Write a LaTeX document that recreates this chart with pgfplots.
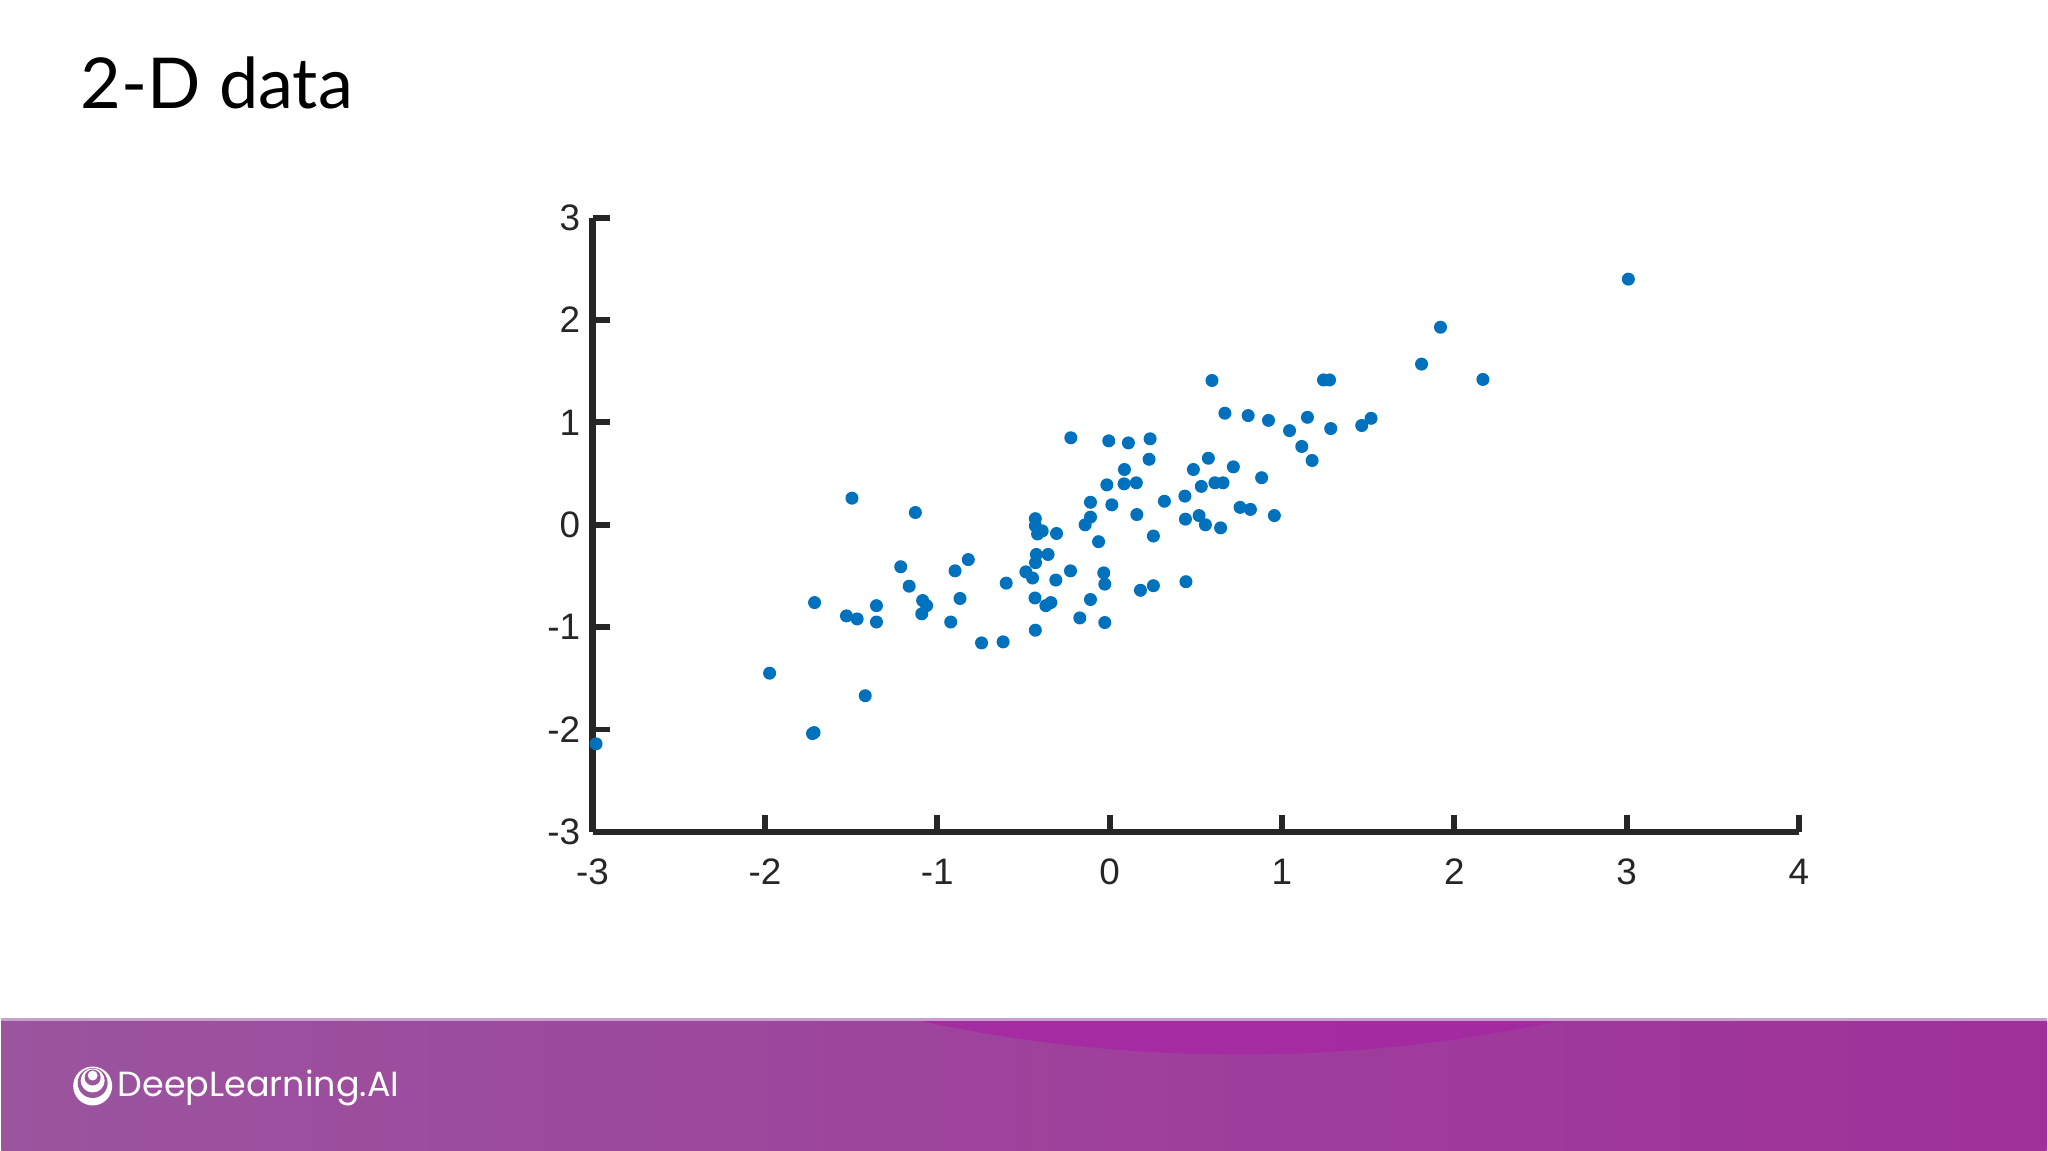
\documentclass[border=0pt]{standalone}
\usepackage{fontspec}
\setmainfont{Liberation Sans}
\newfontfamily\latofont{Lato}
\newfontfamily\popfont{Poppins}
\usepackage{pgfplots}
\pgfplotsset{compat=1.18}

\definecolor{mblue}{RGB}{0,114,189}
\definecolor{axgray}{RGB}{38,38,38}
\definecolor{banL}{RGB}{155,84,158}
\definecolor{banR}{RGB}{160,48,155}
\definecolor{blob}{RGB}{166,40,162}

\begin{document}
\begin{tikzpicture}[x=1cm,y=1cm]
% slide background
\fill[white] (0,0) rectangle (20.48,11.52);

% bottom banner
\shade[left color=banL, right color=banR] (0,0) rectangle (20.48,1.31);
\begin{scope}
  \clip (0,0) rectangle (20.48,1.31);
  \fill[blob, opacity=0.85] (12.4,16.2) circle (15.24);
\end{scope}
\draw[color={rgb,255:red,200;green,160;blue,205}, line width=0.8pt] (0,1.31) -- (20.48,1.31);

% logo
\fill[white] (0.914,0.645) circle (0.195);
\fill[banL] (0.914,0.675) circle (0.15);
\fill[white] (0.914,0.70) circle (0.12);
\fill[banL] (0.914,0.73) circle (0.08);
\fill[white] (0.914,0.75) circle (0.05);
\node[anchor=base west, inner sep=0, text=white] at (1.16,0.535)
  {\popfont\fontsize{9.95}{12}\selectfont DeepLearning.AI};

% title
\node[anchor=base west, inner sep=0] at (0.79,10.435)
  {\latofont\fontsize{20}{24}\selectfont 2-D data};

\begin{axis}[
  at={(5.92cm,3.19cm)}, anchor=south west,
  scale only axis, width=12.08cm, height=6.15cm,
  xmin=-3, xmax=4, ymin=-3, ymax=3,
  axis lines=left,
  axis line style={line width=1.9pt, color=axgray, -},
  tick style={line width=1.7pt, color=axgray},
  major tick length=0.17cm, tick align=inside,
  xtick={-3,-2,-1,0,1,2,3,4},
  xticklabels={-3,-2,-1,0,1,2,3,4},
  ytick={-3,-2,-1,0,1,2,3},
  yticklabels={-3,-2,-1,0,1,2,3},
  tick label style={font=\fontsize{10.5}{12}\selectfont, text=axgray},
  xticklabel style={yshift=-0.15cm},
  clip=false,
]
\addplot[only marks, mark=*, mark size=1.65pt, color=mblue, mark options={draw=mblue, fill=mblue}]
coordinates {
(-2.98,-2.14) (-1.495,0.26) (-1.127,0.12) (-1.212,-0.41) (-0.897,-0.45)
(-1.163,-0.60) (-1.712,-0.76) (-1.353,-0.79) (-1.085,-0.74) (-1.062,-0.79)
(-0.868,-0.72) (-1.527,-0.89) (-1.465,-0.92) (-1.353,-0.95) (-1.090,-0.87)
(-0.922,-0.95) (-1.973,-1.45) (-1.418,-1.67) (-1.724,-2.04) (-1.715,-2.03)
(0.594,1.41) (0.669,1.09) (0.804,1.067) (0.922,1.02) (1.044,0.92)
(1.148,1.05) (1.115,0.765) (1.175,0.628) (-0.225,0.85) (-0.005,0.82)
(0.109,0.80) (0.235,0.84) (0.229,0.64) (0.086,0.54) (-0.016,0.39)
(0.084,0.40) (0.155,0.41) (-0.111,0.22) (0.013,0.195) (0.318,0.23)
(0.437,0.28) (0.486,0.54) (0.573,0.65) (0.532,0.375) (0.611,0.41)
(0.658,0.41) (0.718,0.566) (0.882,0.46) (0.757,0.17) (0.817,0.15)
(0.956,0.09) (0.158,0.10) (0.440,0.055) (0.519,0.09) (0.556,0.0)
(0.644,-0.03) (0.254,-0.11) (-0.064,-0.165) (-0.111,0.075) (-0.142,0.0)
(-0.431,0.06) (-0.431,-0.01) (-0.418,-0.09) (-0.391,-0.06) (-0.308,-0.085)
(-0.820,-0.34) (-0.600,-0.57) (-0.743,-1.154) (-0.618,-1.144) (-0.425,-0.29)
(-0.357,-0.29) (-0.430,-0.37) (-0.486,-0.46) (-0.447,-0.52) (-0.312,-0.54)
(-0.227,-0.45) (-0.433,-0.715) (-0.370,-0.79) (-0.341,-0.76) (-0.431,-1.03)
(-0.111,-0.73) (-0.173,-0.91) (-0.028,-0.955) (-0.034,-0.47) (-0.028,-0.58)
(0.179,-0.64) (0.254,-0.595) (0.443,-0.556)
(3.01,2.40) (1.92,1.93) (1.81,1.57) (2.166,1.42) (1.241,1.415)
(1.276,1.415) (1.283,0.94) (1.463,0.97) (1.517,1.04)
};
\end{axis}
\end{tikzpicture}
\end{document}
